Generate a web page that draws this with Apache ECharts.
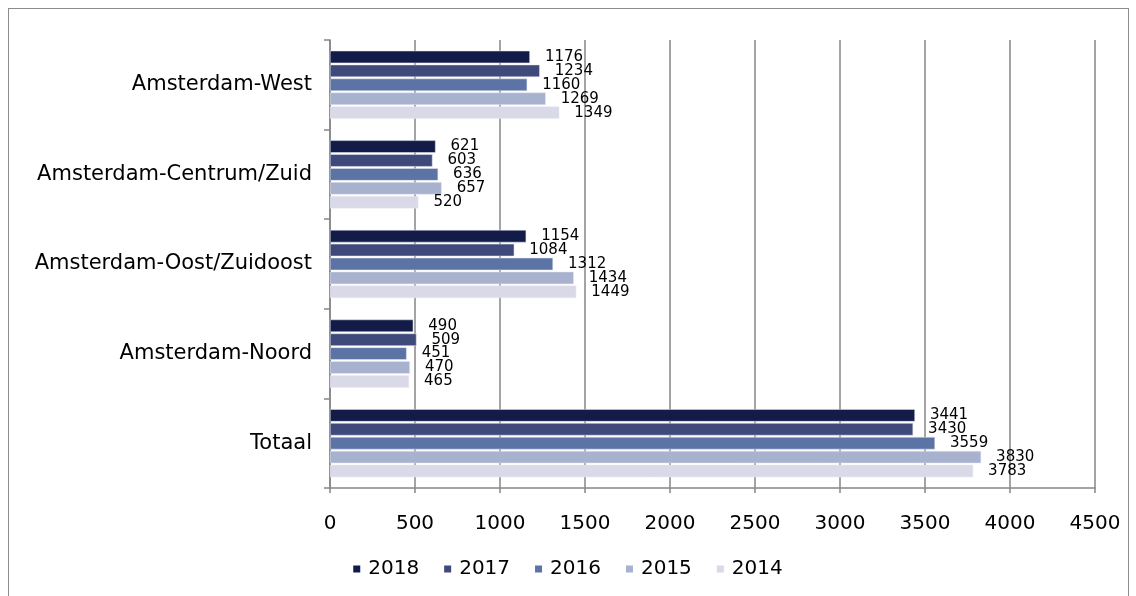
<!DOCTYPE html>
<html>
<head>
<meta charset="utf-8">
<script src="https://cdn.jsdelivr.net/npm/echarts@6/dist/echarts.min.js"></script>
<style>
    html, body { margin: 0; padding: 0; background: #fff; }
    #frame { position: absolute; left: 8px; top: 8px; width: 1119px; height: 620px; border: 1px solid #8c8c8c; }
    #chart { position: absolute; left: 0; top: 0; width: 1136px; height: 596px; }
</style>
</head>
<body>
<div id="frame"></div>
<div id="chart"></div>
<script>
var categorieen = ['Amsterdam-West', 'Amsterdam-Centrum/Zuid', 'Amsterdam-Oost/Zuidoost', 'Amsterdam-Noord', 'Totaal'];
var jaren = ['2018', '2017', '2016', '2015', '2014'];
var data2018 = [1176, 621, 1154, 490, 3441];
var data2017 = [1234, 603, 1084, 509, 3430];
var data2016 = [1160, 636, 1312, 451, 3559];
var data2015 = [1269, 657, 1434, 470, 3830];
var data2014 = [1349, 520, 1449, 465, 3783];
var kleuren = ['#131c48', '#404a7a', '#5b73a5', '#a8b2ce', '#d9d9e8'];

function fn_barras(id) {
    let el = document.getElementById(id);
    let myChart = echarts.init(el);
    let option;
    let valores = [data2018, data2017, data2016, data2015, data2014];

    option = {
        textStyle: { fontFamily: 'DejaVu Sans' },
        color: kleuren,
        legend: {
            data: jaren,
            bottom: 12,
            left: 'center',
            itemWidth: 7,
            itemHeight: 7,
            itemGap: 25,
            icon: 'rect',
            itemStyle: { borderWidth: 0 },
            textStyle: { fontSize: 20, color: '#000', fontFamily: 'DejaVu Sans', padding: [0, 0, 0, 3] }
        },
        grid: {
            left: 330,
            right: 41,
            top: 40,
            bottom: 108,
            containLabel: false
        },
        xAxis: {
            type: 'value',
            min: 0,
            max: 4500,
            interval: 500,
            axisLine: { show: true, lineStyle: { color: '#868686', width: 1.5 } },
            axisTick: { show: true, length: 5, lineStyle: { color: '#868686', width: 1.5 } },
            axisLabel: {
                fontSize: 20,
                color: '#000',
                margin: 26,
                formatter: function (value) {
                    return String(value); // sem separador de milhar
                }
            },
            splitLine: { show: true, lineStyle: { color: '#868686', width: 1.5 } }
        },
        yAxis: {
            type: 'category',
            inverse: true,
            data: categorieen,
            axisLine: { show: true, lineStyle: { color: '#868686', width: 1.5 } },
            axisTick: { show: true, length: 6, lineStyle: { color: '#868686', width: 1.5 } },
            axisLabel: { fontSize: 21, color: '#000', margin: 18 }
        },
        series: jaren.map(function (jaar, i) {
            return {
                name: jaar,
                type: 'bar',
                data: valores[i],
                barGap: '12%',
                barCategoryGap: '24%',
                itemStyle: { borderColor: '#e8eaf2', borderWidth: 0.5 },
                label: {
                    show: true,
                    position: 'right',
                    distance: 15,
                    fontSize: 15,
                    color: '#000'
                }
            };
        })
    };

    myChart.setOption(option);
}

fn_barras('chart');
</script>
</body>
</html>
